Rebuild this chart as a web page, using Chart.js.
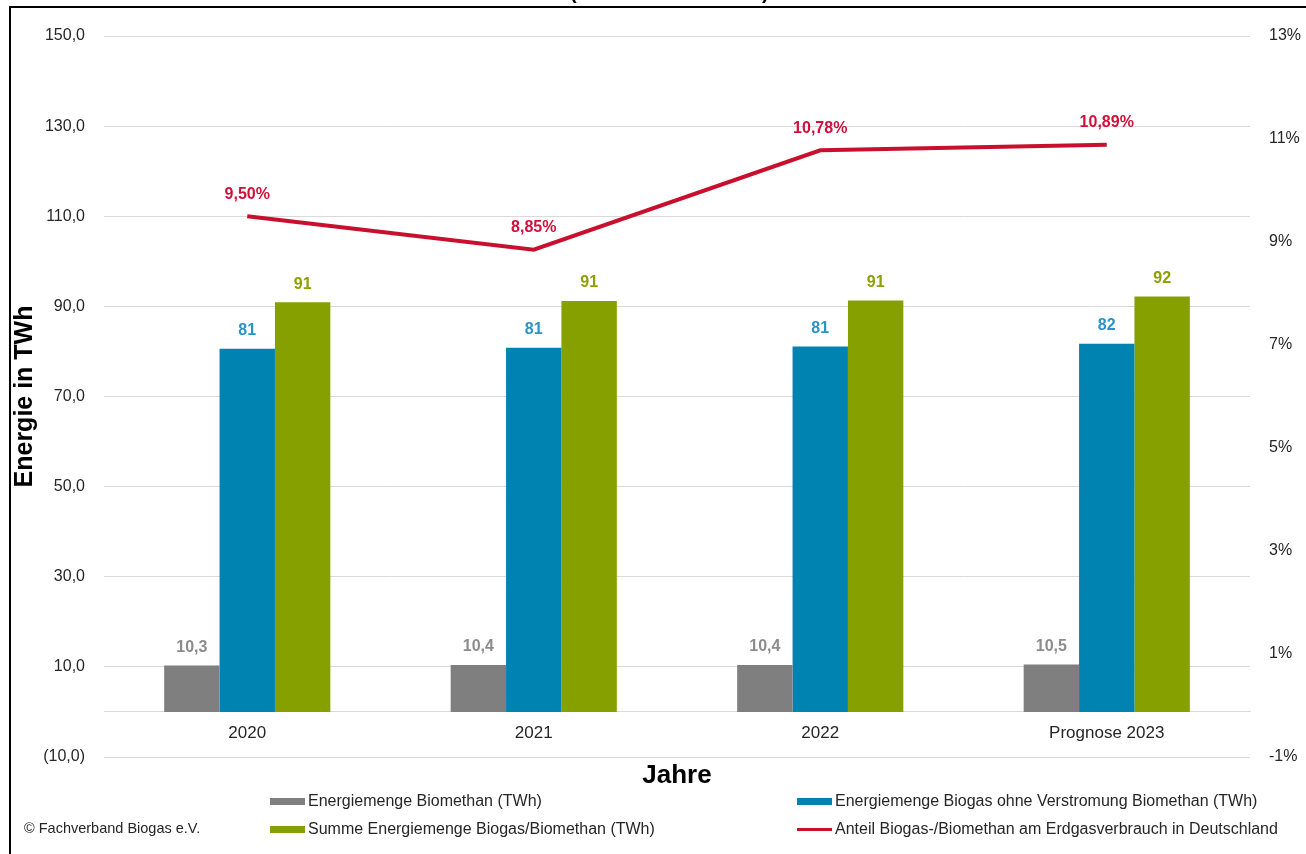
<!DOCTYPE html>
<html>
<head>
<meta charset="utf-8">
<script src="https://cdn.jsdelivr.net/npm/chart.js@4"></script>
<style>
  body { margin: 0; background: #fff; overflow: hidden; font-family: 'Liberation Sans', Arial, sans-serif; }
  #wrap { position: relative; width: 1306px; height: 854px; }
  #frame { position: absolute; left: 9px; top: 6px; right: -4px; bottom: -4px; border-top: 2px solid #000; border-left: 2px solid #000; }
  #title { position: absolute; left: 0; top: 0; width: 1306px; height: 5px; overflow: hidden; }
  #title span { position: absolute; top: -19px; font-size: 20px; font-weight: bold; color: #000; }
  #legend { position: absolute; left: 270px; top: 787px; display: grid; grid-template-columns: 527px auto; grid-auto-rows: 28px; font-size: 16px; color: #262626; }
  .item { display: flex; align-items: center; white-space: nowrap; }
  .sw { width: 35px; margin-right: 3px; }
  #copy { position: absolute; left: 24px; top: 820px; font-size: 14.5px; color: #262626; }
</style>
</head>
<body>
<div id="wrap">
  <div id="title"><span style="left:570px">(</span><span style="left:762px">)</span></div>
  <div id="frame"></div>
  <canvas id="chart"></canvas>
  <div id="legend"></div>
  <div id="copy">© Fachverband Biogas e.V.</div>
</div>
<script>
var jahre = ['2020', '2021', '2022', 'Prognose 2023'];
var biomethan = [10.3, 10.4, 10.4, 10.5];
var biogasOhne = [80.6, 80.8, 81.1, 81.7];
var summe = [90.9, 91.2, 91.3, 92.2];
var anteil = [9.50, 8.85, 10.78, 10.89];

var grau = '#7f7f7f';
var blau = '#0083b0';
var gruen = '#86a000';
var rot = '#c8102e';

function komma(v, d) {
  return v.toFixed(d).replace('.', ',');
}

// Werte über Balken und Linie schreiben
var labelPlugin = {
  id: 'werte',
  afterDatasetsDraw: function(chart) {
    var ctx = chart.ctx;
    ctx.save();
    ctx.font = 'bold 16px "Liberation Sans", Arial, sans-serif';
    ctx.textAlign = 'center';
    ctx.textBaseline = 'middle';
    chart.data.datasets.forEach(function(ds, i) {
      var meta = chart.getDatasetMeta(i);
      meta.data.forEach(function(el, j) {
        var v = ds.data[j];
        var txt, dy;
        if (ds.type === 'line') {
          txt = komma(v, 2) + '%';
          dy = 22;
        } else if (i === 0) {
          txt = komma(v, 1);
          dy = 18;
        } else {
          txt = String(Math.round(v));
          dy = 18;
        }
        ctx.fillStyle = ds.labelColor;
        ctx.fillText(txt, el.x, el.y - dy);
      });
    });
    ctx.restore();
  }
};

var mychart = document.getElementById('chart');
var myChart = new Chart(mychart, {
  type: 'bar',
  data: {
    labels: jahre,
    datasets: [
      {
        label: 'Energiemenge Biomethan (TWh)',
        data: biomethan,
        backgroundColor: grau,
        labelColor: '#8c8c8c',
        yAxisID: 'y',
        order: 1
      },
      {
        label: 'Energiemenge Biogas ohne Verstromung Biomethan (TWh)',
        data: biogasOhne,
        backgroundColor: blau,
        labelColor: '#2a93c8',
        yAxisID: 'y',
        order: 1
      },
      {
        label: 'Summe Energiemenge Biogas/Biomethan (TWh)',
        data: summe,
        backgroundColor: gruen,
        labelColor: '#8ca000',
        yAxisID: 'y',
        order: 1
      },
      {
        type: 'line',
        label: 'Anteil Biogas-/Biomethan am Erdgasverbrauch in Deutschland',
        data: anteil,
        borderColor: rot,
        backgroundColor: rot,
        labelColor: '#d0103a',
        borderWidth: 4,
        pointRadius: 0,
        tension: 0,
        fill: false,
        yAxisID: 'y1',
        order: 0
      }
    ]
  },
  options: {
    responsive: true,
    maintainAspectRatio: false,
    animation: false,
    layout: { padding: { left: 10, right: 0, top: 36, bottom: 97 } },
    datasets: {
      bar: { categoryPercentage: 0.58, barPercentage: 1.0 }
    },
    plugins: {
      legend: { display: false },
      tooltip: { enabled: false }
    },
    scales: {
      x: {
        position: { y: 0 },
        grid: { display: false, drawTicks: false },
        border: { display: true, color: '#d9d9d9', width: 1 },
        ticks: {
          padding: 11,
          color: '#262626',
          font: { family: '"Liberation Sans", Arial, sans-serif', size: 17 }
        },
        title: {
          display: true,
          text: 'Jahre',
          color: '#000',
          padding: { top: 6, bottom: 0 },
          font: { family: '"Liberation Sans", Arial, sans-serif', size: 26, weight: 'bold' }
        }
      },
      y: {
        position: 'left',
        min: -10,
        max: 150,
        ticks: {
          stepSize: 20,
          padding: 19,
          color: '#262626',
          font: { family: '"Liberation Sans", Arial, sans-serif', size: 16 },
          callback: function(v) {
            return v < 0 ? '(' + komma(-v, 1) + ')' : komma(v, 1);
          }
        },
        grid: { color: '#d9d9d9', drawTicks: false },
        border: { display: false },
        title: {
          display: true,
          text: 'Energie in TWh',
          color: '#000',
          padding: { top: 0, bottom: 0 },
          font: { family: '"Liberation Sans", Arial, sans-serif', size: 25, weight: 'bold' }
        },
        afterFit: function(scale) { scale.width = 94; }
      },
      y1: {
        position: 'right',
        min: -1,
        max: 13,
        ticks: {
          stepSize: 2,
          padding: 19,
          color: '#262626',
          font: { family: '"Liberation Sans", Arial, sans-serif', size: 16 },
          callback: function(v) { return v + '%'; }
        },
        grid: { display: false, drawTicks: false },
        border: { display: false },
        afterFit: function(scale) { scale.width = 56; }
      }
    }
  },
  plugins: [labelPlugin]
});

// Legende als HTML, aus den Datensätzen gebaut
var legend = document.getElementById('legend');
myChart.data.datasets.forEach(function(ds) {
  var item = document.createElement('div');
  item.className = 'item';
  var sw = document.createElement('span');
  sw.className = 'sw';
  sw.style.background = ds.type === 'line' ? ds.borderColor : ds.backgroundColor;
  sw.style.height = ds.type === 'line' ? '3px' : '7px';
  item.appendChild(sw);
  item.appendChild(document.createTextNode(ds.label));
  legend.appendChild(item);
});
</script>
</body>
</html>
